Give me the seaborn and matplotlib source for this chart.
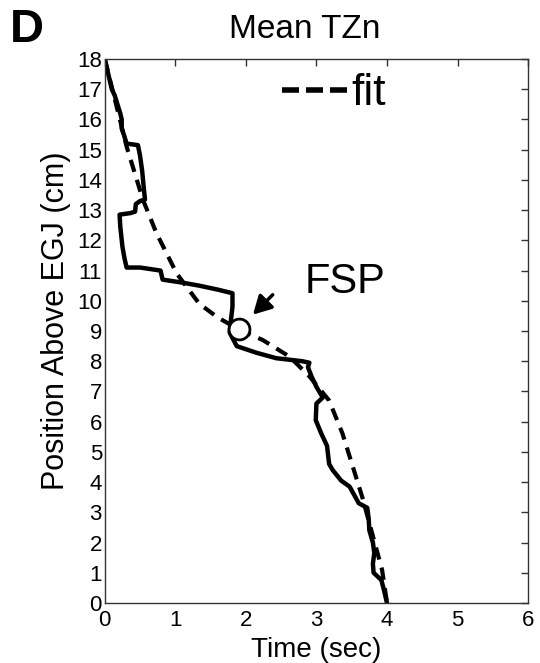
import matplotlib
matplotlib.use("Agg")
import matplotlib.pyplot as plt
import seaborn as sns
import pandas as pd
from matplotlib.lines import Line2D

# Data
trace_time = [0.0, 0.03, 0.07, 0.10, 0.14, 0.18, 0.22, 0.24, 0.24, 0.27, 0.31, 0.47, 0.50, 0.53,
              0.55, 0.57, 0.50, 0.44, 0.43, 0.36, 0.21, 0.22, 0.25, 0.28, 0.31, 0.50, 0.79, 0.82,
              1.10, 1.34, 1.60, 1.81, 1.81, 1.79, 1.77, 1.87, 2.15, 2.43, 2.80, 2.90, 2.88, 2.93,
              3.00, 3.09, 3.00, 2.99, 3.07, 3.15, 3.18, 3.23, 3.35, 3.47, 3.60, 3.72, 3.74, 3.75,
              3.80, 3.82, 3.80, 3.81, 3.92, 3.96, 4.00]
trace_pos = [18.0, 17.7, 17.3, 17.0, 16.8, 16.5, 16.2, 16.0, 15.7, 15.5, 15.2, 15.15, 14.8, 14.3,
             13.8, 13.35, 13.3, 13.2, 12.95, 12.9, 12.85, 12.45, 11.8, 11.4, 11.1, 11.1, 11.0, 10.7,
             10.6, 10.5, 10.37, 10.25, 9.8, 9.4, 8.95, 8.5, 8.28, 8.1, 8.0, 7.95, 7.8, 7.5,
             7.15, 6.8, 6.6, 6.05, 5.6, 5.2, 4.6, 4.4, 4.05, 3.85, 3.3, 3.15, 2.8, 2.4,
             2.0, 1.65, 1.3, 1.0, 0.76, 0.4, 0.0]

fit_time = [0.0, 0.15, 0.31, 0.54, 0.73, 1.02, 1.34, 1.60, 1.90, 2.24, 2.62, 2.90, 3.18, 3.37,
            3.65, 3.93, 4.00]
fit_pos = [18.0, 16.6, 15.1, 13.35, 12.25, 10.9, 9.9, 9.45, 9.05, 8.7, 8.15, 7.5, 6.7, 5.6,
           3.5, 1.1, 0.0]

fsp_time = [1.9]
fsp_pos = [9.05]

x_ticks = [0, 1, 2, 3, 4, 5, 6]
y_ticks = list(range(0, 19))

sns.set_theme(style="white")
plt.rcParams['font.family'] = ['Liberation Sans', 'DejaVu Sans']
plt.rcParams.update({"text.color": "black", "axes.labelcolor": "black",
                     "xtick.color": "#333333", "ytick.color": "#333333",
                     "xtick.labelcolor": "black", "ytick.labelcolor": "black"})

fig = plt.figure(figsize=(5.4, 6.63), dpi=100)
ax = fig.add_axes([0.194, 0.0905, 0.784, 0.8205])

df_trace = pd.DataFrame({"t": trace_time, "p": trace_pos})
df_fit = pd.DataFrame({"t": fit_time, "p": fit_pos})

sns.lineplot(data=df_fit, x="t", y="p", sort=False, ax=ax, color="black", lw=3.0,
             linestyle=(0, (3, 2)), estimator=None)
sns.lineplot(data=df_trace, x="t", y="p", sort=False, ax=ax, color="black", lw=3.2,
             estimator=None)
ax.plot(fsp_time, fsp_pos, "o", ms=15, mfc="white", mec="black", mew=2, zorder=5)

ax.set_xlim(0, 6)
ax.set_ylim(0, 18)
ax.set_xticks(x_ticks)
ax.set_yticks(y_ticks)
ax.tick_params(direction="in", length=5, width=1, labelsize=16,
               top=True, right=True)
ax.tick_params(axis="x", pad=5)
ax.tick_params(axis="y", pad=2)
for s in ax.spines.values():
    s.set_color("#333333")
    s.set_linewidth(1)
    s.set_visible(True)

ax.set_xlabel("Time (sec)", fontsize=20)
ax.set_ylabel("Position Above EGJ (cm)", fontsize=22)
ax.xaxis.set_label_coords(0.5, -0.062)
ax.yaxis.set_label_coords(-0.08, 0.518)
fig.text(0.565, 0.956, "Mean TZn", fontsize=24, ha="center", va="center")
fig.text(0.018, 0.955, "D", fontsize=34, fontweight="bold", ha="left", va="center")

# legend-like "---fit"
ax.legend([Line2D([], [], color="black", lw=4, linestyle=(0, (3.06, 1.26)))], ["fit"],
          loc="center left", bbox_to_anchor=(0.418, 0.936), frameon=False,
          fontsize=32, handlelength=1.46, handletextpad=0.1, borderpad=0,
          borderaxespad=0)

ax.text(2.83, 10.27, "FSP", fontsize=30, ha="left", va="baseline")
ax.annotate("", xy=(2.10, 9.54), xytext=(2.38, 10.2),
            arrowprops=dict(arrowstyle="-|>,head_width=0.3,head_length=0.55",
                            mutation_scale=20, color="black", lw=2.5,
                            shrinkA=0, shrinkB=0))

fig.savefig("out.png", dpi=100)
